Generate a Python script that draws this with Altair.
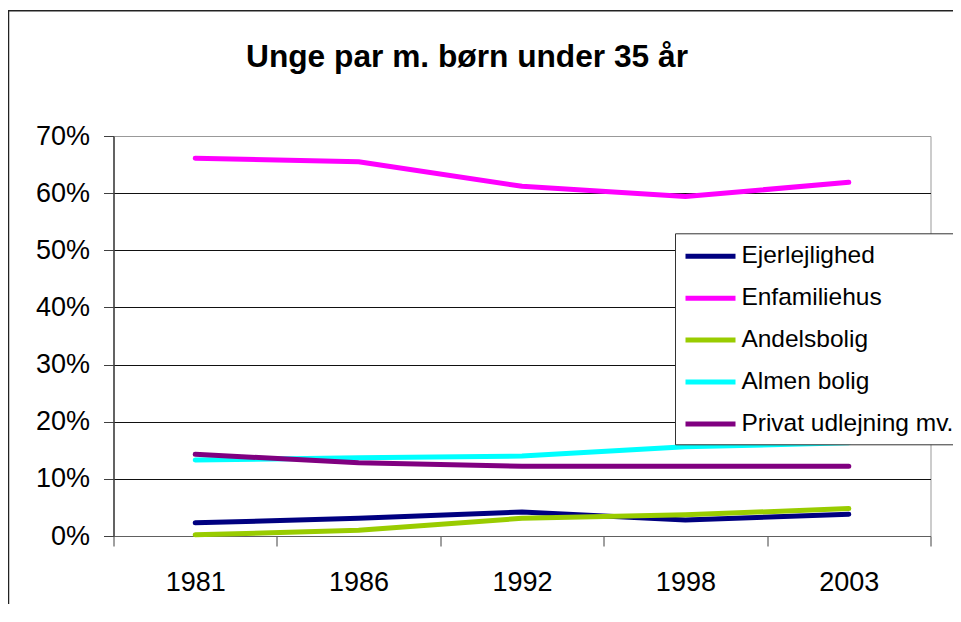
import altair as alt
import pandas as pd

title_text = "Unge par m. børn under 35 år"
years = ["1981", "1986", "1992", "1998", "2003"]
series_names = ["Ejerlejlighed", "Enfamiliehus", "Andelsbolig", "Almen bolig", "Privat udlejning mv."]
colors = ["#000080", "#FF00FF", "#99CC00", "#00FFFF", "#800080"]

ejerlejlighed = [2.3, 3.1, 4.2, 2.8, 3.8]
enfamiliehus = [66.1, 65.5, 61.2, 59.4, 61.9]
andelsbolig = [0.2, 1.0, 3.1, 3.7, 4.8]
almen_bolig = [13.3, 13.7, 14.0, 15.6, 16.3]
privat_udlejning = [14.3, 12.8, 12.2, 12.2, 12.2]

all_values = [ejerlejlighed, enfamiliehus, andelsbolig, almen_bolig, privat_udlejning]
rows = []
for name, vals in zip(series_names, all_values):
    for yr, v in zip(years, vals):
        rows.append({"series": name, "year": yr, "value": v})
df = pd.DataFrame(rows)

FONT = "Liberation Sans"

frame = alt.Chart(alt.Data(values=[{}])).mark_rect(
    fillOpacity=0, stroke="#222222", strokeWidth=1.5
).encode(
    x=alt.value(-105), x2=alt.value(900), y=alt.value(-125.3), y2=alt.value(600)
)

title = alt.Chart(alt.Data(values=[{"t": title_text}])).mark_text(
    font=FONT, fontSize=31.7, fontWeight="bold", color="black",
    align="center", baseline="alphabetic",
).encode(
    text="t:N", x=alt.value(353.5), y=alt.value(-69)
)

lines = alt.Chart(df).mark_line(strokeWidth=5, strokeCap="round", strokeJoin="round").encode(
    x=alt.X(
        "year:O", sort=years, bandPosition=0.5,
        scale=alt.Scale(type="band", paddingInner=0, paddingOuter=0),
        axis=alt.Axis(
            title=None, labelAngle=0, tickBand="extent", grid=False,
            domainColor="#606060", tickColor="#404040", tickSize=10,
            labelPadding=23, labelFontSize=27, labelFont=FONT, labelColor="black",
        ),
    ),
    y=alt.Y(
        "value:Q", scale=alt.Scale(domain=[0, 70], nice=False, zero=True),
        axis=alt.Axis(
            title=None, values=[0, 10, 20, 30, 40, 50, 60, 70],
            labelExpr="datum.value + '%'",
            domainColor="#404040", domainWidth=1.5, tickColor="#404040", tickSize=10,
            labelPadding=14, labelFontSize=27, labelFont=FONT, labelColor="black",
            gridColor=alt.condition("datum.value == 70", alt.value("#999999"), alt.value("#111111")),
            gridWidth=1,
        ),
    ),
    color=alt.Color(
        "series:N", sort=series_names,
        scale=alt.Scale(domain=series_names, range=colors),
        legend=alt.Legend(
            title=None, orient="none", legendX=561.5, legendY=97.3,
            strokeColor="#333333", fillColor="white", padding=8,
            symbolType="M-1,0H3", symbolSize=625, symbolStrokeWidth=5,
            labelFontSize=24.5, labelFont=FONT, labelColor="black",
            labelOffset=28.4, rowPadding=14.9, labelLimit=400,
        ),
    ),
)

chart = alt.layer(frame, title, lines).properties(
    width=817, height=400,
    padding={"left": 105.5, "top": 128, "right": 22.5, "bottom": 68},
    autosize=alt.AutoSizeParams(type="none"),
).configure_view(stroke="#999999")

chart.save("out.html", embed_options={"renderer": "svg", "actions": False})
